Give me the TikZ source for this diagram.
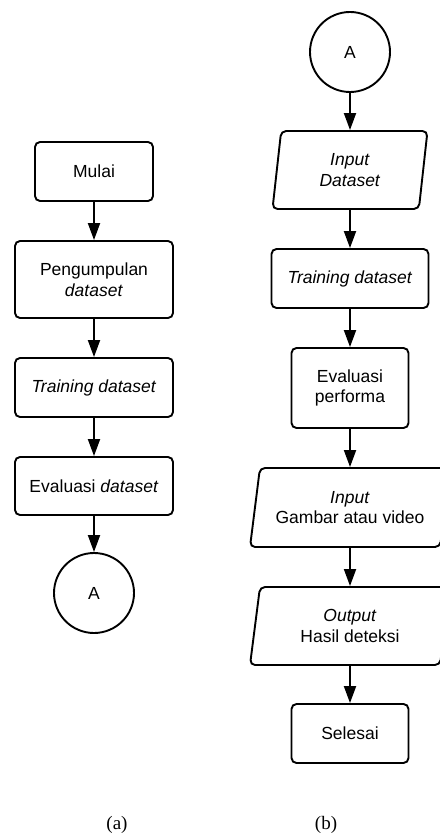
\documentclass[tikz,border=0pt]{standalone}
\usepackage{fontspec}
\setmainfont{Liberation Sans}
\newfontfamily\subfigfont{Liberation Serif}
\usetikzlibrary{arrows.meta,shapes.geometric}

\begin{document}
\begin{tikzpicture}[x=1pt,y=-1pt,>={Triangle[length=17pt,width=12pt]},
  kotak/.style={draw,rounded corners=5pt,line width=1.9pt,align=center,font=\fontsize{17.5}{20.5}\selectfont},
  jajar/.style={draw,trapezium,trapezium stretches body,trapezium left angle=#1,trapezium right angle={180-#1},
    rounded corners=5pt,line width=1.9pt,align=center,inner sep=1pt,font=\fontsize{17.5}{20.5}\selectfont},
  konektor/.style={draw,circle,line width=1.9pt,minimum size=80pt,font=\fontsize{17.5}{20.5}\selectfont},
  panah/.style={->,line width=1.9pt}]
  \useasboundingbox (0,0) rectangle (439,837);
  \node[kotak,minimum width=118pt,minimum height=59pt] (mulai) at (94,171.5) {Mulai};
  \node[kotak,minimum width=158pt,minimum height=77pt] (kumpul) at (94,279.5) {Pengumpulan\\\textit{dataset}};
  \node[kotak,minimum width=158pt,minimum height=59pt] (latihA) at (94,387.5) {\textit{Training dataset}};
  \node[kotak,minimum width=158pt,minimum height=58pt] (evalA) at (94,486) {Evaluasi \textit{dataset}};
  \node[konektor] (konA) at (94,593) {A};
  \node[konektor] (konB) at (350,52) {A};
  \node[jajar=76,minimum width=155pt,minimum height=78pt] (inData) at (350,170) {\textit{Input}\\\textit{Dataset}};
  \node[kotak,minimum width=157pt,minimum height=59pt] (latihB) at (350,278.5) {\textit{Training dataset}};
  \node[kotak,minimum width=117pt,minimum height=80pt] (evalB) at (350,388) {Evaluasi\\performa};
  \node[jajar=74,minimum width=200pt,minimum height=79pt] (inGambar) at (350,507.5) {\textit{Input}\\Gambar atau video};
  \node[jajar=74,minimum width=200pt,minimum height=78pt] (hasil) at (350,626) {\textit{Output}\\Hasil deteksi};
  \node[kotak,minimum width=117pt,minimum height=59pt] (selesai) at (350,733.5) {Selesai};
  \foreach \a/\b in {mulai/kumpul,kumpul/latihA,latihA/evalA,evalA/konA,
    konB/inData,inData/latihB,latihB/evalB,evalB/inGambar,inGambar/hasil,hasil/selesai}{
    \draw[panah] (\a) -- (\b);
  }
  \node[font=\subfigfont\fontsize{19}{22}\selectfont] (capA) at (117,825) {(a)};
  \node[font=\subfigfont\fontsize{19}{22}\selectfont] (capB) at (326,825) {(b)};
\end{tikzpicture}
\end{document}
